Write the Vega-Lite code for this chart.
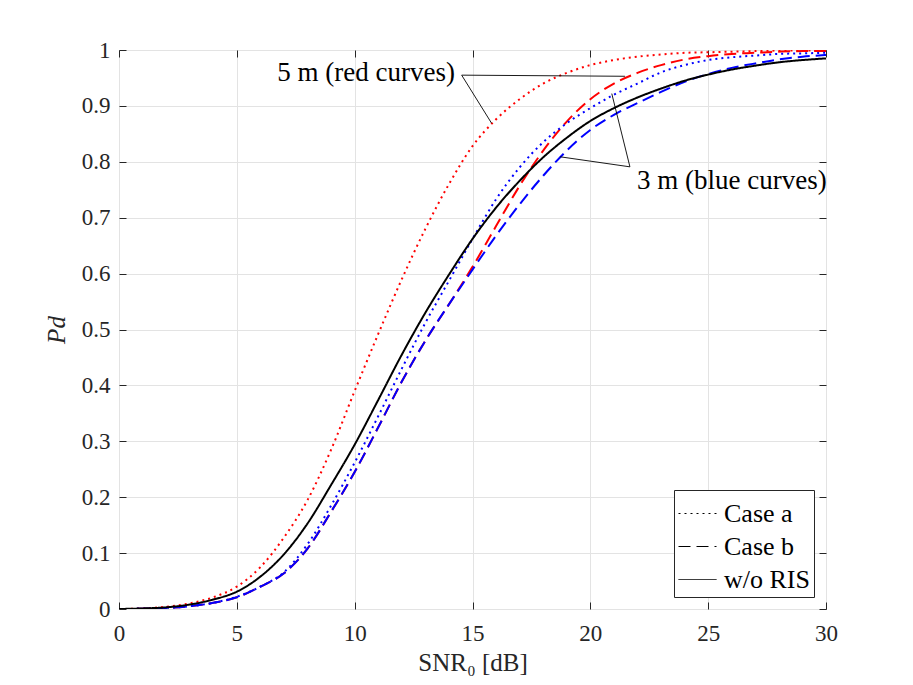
{
  "$schema": "https://vega.github.io/schema/vega-lite/v6.json",
  "width": 707,
  "height": 559,
  "autosize": {"type": "none"},
  "padding": {"left": 119, "top": 50, "right": 87, "bottom": 76},
  "background": "white",
  "config": {
    "font": "Liberation Serif",
    "view": {"stroke": "#262626", "strokeWidth": 1},
    "axis": {
      "domain": false,
      "grid": true,
      "gridColor": "#e3e3e3",
      "gridWidth": 1,
      "tickColor": "#262626",
      "tickSize": -7,
      "tickWidth": 1,
      "labelFlush": false,
      "labelFont": "Liberation Serif",
      "labelFontSize": 23,
      "labelColor": "#262626",
      "titleFont": "Liberation Serif",
      "titleFontSize": 25,
      "titleFontWeight": "normal",
      "titleColor": "#262626"
    },
    "legend": {"labelFont": "Liberation Serif"}
  },
  "datasets": {
    "curves": [
      {"snr":0,"pd":0,"dist":"5 m","case":"Case a"},{"snr":1,"pd":0.001,"dist":"5 m","case":"Case a"},{"snr":2,"pd":0.004,"dist":"5 m","case":"Case a"},{"snr":3,"pd":0.01,"dist":"5 m","case":"Case a"},{"snr":4,"pd":0.021,"dist":"5 m","case":"Case a"},{"snr":5,"pd":0.04,"dist":"5 m","case":"Case a"},{"snr":6,"pd":0.075,"dist":"5 m","case":"Case a"},{"snr":7,"pd":0.128,"dist":"5 m","case":"Case a"},{"snr":8,"pd":0.195,"dist":"5 m","case":"Case a"},{"snr":9,"pd":0.285,"dist":"5 m","case":"Case a"},{"snr":10,"pd":0.39,"dist":"5 m","case":"Case a"},{"snr":11,"pd":0.492,"dist":"5 m","case":"Case a"},{"snr":12,"pd":0.59,"dist":"5 m","case":"Case a"},{"snr":13,"pd":0.68,"dist":"5 m","case":"Case a"},{"snr":14,"pd":0.76,"dist":"5 m","case":"Case a"},{"snr":15,"pd":0.828,"dist":"5 m","case":"Case a"},{"snr":16,"pd":0.876,"dist":"5 m","case":"Case a"},{"snr":17,"pd":0.912,"dist":"5 m","case":"Case a"},{"snr":18,"pd":0.94,"dist":"5 m","case":"Case a"},{"snr":19,"pd":0.959,"dist":"5 m","case":"Case a"},{"snr":20,"pd":0.973,"dist":"5 m","case":"Case a"},{"snr":21,"pd":0.982,"dist":"5 m","case":"Case a"},{"snr":22,"pd":0.988,"dist":"5 m","case":"Case a"},{"snr":23,"pd":0.992,"dist":"5 m","case":"Case a"},{"snr":24,"pd":0.995,"dist":"5 m","case":"Case a"},{"snr":25,"pd":0.996,"dist":"5 m","case":"Case a"},{"snr":26,"pd":0.997,"dist":"5 m","case":"Case a"},{"snr":27,"pd":0.998,"dist":"5 m","case":"Case a"},{"snr":28,"pd":0.999,"dist":"5 m","case":"Case a"},{"snr":29,"pd":0.999,"dist":"5 m","case":"Case a"},{"snr":30,"pd":1.0,"dist":"5 m","case":"Case a"},
      {"snr":0,"pd":0,"dist":"5 m","case":"Case b"},{"snr":1,"pd":0.0005,"dist":"5 m","case":"Case b"},{"snr":2,"pd":0.002,"dist":"5 m","case":"Case b"},{"snr":3,"pd":0.005,"dist":"5 m","case":"Case b"},{"snr":4,"pd":0.011,"dist":"5 m","case":"Case b"},{"snr":5,"pd":0.021,"dist":"5 m","case":"Case b"},{"snr":6,"pd":0.04,"dist":"5 m","case":"Case b"},{"snr":7,"pd":0.064,"dist":"5 m","case":"Case b"},{"snr":8,"pd":0.108,"dist":"5 m","case":"Case b"},{"snr":9,"pd":0.174,"dist":"5 m","case":"Case b"},{"snr":10,"pd":0.245,"dist":"5 m","case":"Case b"},{"snr":11,"pd":0.325,"dist":"5 m","case":"Case b"},{"snr":12,"pd":0.407,"dist":"5 m","case":"Case b"},{"snr":13,"pd":0.48,"dist":"5 m","case":"Case b"},{"snr":14,"pd":0.545,"dist":"5 m","case":"Case b"},{"snr":15,"pd":0.612,"dist":"5 m","case":"Case b"},{"snr":16,"pd":0.685,"dist":"5 m","case":"Case b"},{"snr":17,"pd":0.757,"dist":"5 m","case":"Case b"},{"snr":18,"pd":0.82,"dist":"5 m","case":"Case b"},{"snr":19,"pd":0.872,"dist":"5 m","case":"Case b"},{"snr":20,"pd":0.912,"dist":"5 m","case":"Case b"},{"snr":21,"pd":0.94,"dist":"5 m","case":"Case b"},{"snr":22,"pd":0.959,"dist":"5 m","case":"Case b"},{"snr":23,"pd":0.973,"dist":"5 m","case":"Case b"},{"snr":24,"pd":0.983,"dist":"5 m","case":"Case b"},{"snr":25,"pd":0.989,"dist":"5 m","case":"Case b"},{"snr":26,"pd":0.993,"dist":"5 m","case":"Case b"},{"snr":27,"pd":0.995,"dist":"5 m","case":"Case b"},{"snr":28,"pd":0.997,"dist":"5 m","case":"Case b"},{"snr":29,"pd":0.998,"dist":"5 m","case":"Case b"},{"snr":30,"pd":0.998,"dist":"5 m","case":"Case b"},
      {"snr":0,"pd":0,"dist":"3 m","case":"Case a"},{"snr":1,"pd":0.0005,"dist":"3 m","case":"Case a"},{"snr":2,"pd":0.002,"dist":"3 m","case":"Case a"},{"snr":3,"pd":0.005,"dist":"3 m","case":"Case a"},{"snr":4,"pd":0.011,"dist":"3 m","case":"Case a"},{"snr":5,"pd":0.022,"dist":"3 m","case":"Case a"},{"snr":6,"pd":0.04,"dist":"3 m","case":"Case a"},{"snr":7,"pd":0.066,"dist":"3 m","case":"Case a"},{"snr":8,"pd":0.116,"dist":"3 m","case":"Case a"},{"snr":9,"pd":0.185,"dist":"3 m","case":"Case a"},{"snr":10,"pd":0.262,"dist":"3 m","case":"Case a"},{"snr":11,"pd":0.345,"dist":"3 m","case":"Case a"},{"snr":12,"pd":0.43,"dist":"3 m","case":"Case a"},{"snr":13,"pd":0.512,"dist":"3 m","case":"Case a"},{"snr":14,"pd":0.587,"dist":"3 m","case":"Case a"},{"snr":15,"pd":0.662,"dist":"3 m","case":"Case a"},{"snr":16,"pd":0.733,"dist":"3 m","case":"Case a"},{"snr":17,"pd":0.79,"dist":"3 m","case":"Case a"},{"snr":18,"pd":0.835,"dist":"3 m","case":"Case a"},{"snr":19,"pd":0.869,"dist":"3 m","case":"Case a"},{"snr":20,"pd":0.896,"dist":"3 m","case":"Case a"},{"snr":21,"pd":0.92,"dist":"3 m","case":"Case a"},{"snr":22,"pd":0.94,"dist":"3 m","case":"Case a"},{"snr":23,"pd":0.96,"dist":"3 m","case":"Case a"},{"snr":24,"pd":0.973,"dist":"3 m","case":"Case a"},{"snr":25,"pd":0.982,"dist":"3 m","case":"Case a"},{"snr":26,"pd":0.987,"dist":"3 m","case":"Case a"},{"snr":27,"pd":0.99,"dist":"3 m","case":"Case a"},{"snr":28,"pd":0.993,"dist":"3 m","case":"Case a"},{"snr":29,"pd":0.994,"dist":"3 m","case":"Case a"},{"snr":30,"pd":0.995,"dist":"3 m","case":"Case a"},
      {"snr":0,"pd":0,"dist":"3 m","case":"Case b"},{"snr":1,"pd":0.0005,"dist":"3 m","case":"Case b"},{"snr":2,"pd":0.002,"dist":"3 m","case":"Case b"},{"snr":3,"pd":0.005,"dist":"3 m","case":"Case b"},{"snr":4,"pd":0.011,"dist":"3 m","case":"Case b"},{"snr":5,"pd":0.021,"dist":"3 m","case":"Case b"},{"snr":6,"pd":0.04,"dist":"3 m","case":"Case b"},{"snr":7,"pd":0.064,"dist":"3 m","case":"Case b"},{"snr":8,"pd":0.108,"dist":"3 m","case":"Case b"},{"snr":9,"pd":0.174,"dist":"3 m","case":"Case b"},{"snr":10,"pd":0.245,"dist":"3 m","case":"Case b"},{"snr":11,"pd":0.325,"dist":"3 m","case":"Case b"},{"snr":12,"pd":0.407,"dist":"3 m","case":"Case b"},{"snr":13,"pd":0.48,"dist":"3 m","case":"Case b"},{"snr":14,"pd":0.545,"dist":"3 m","case":"Case b"},{"snr":15,"pd":0.607,"dist":"3 m","case":"Case b"},{"snr":16,"pd":0.668,"dist":"3 m","case":"Case b"},{"snr":17,"pd":0.724,"dist":"3 m","case":"Case b"},{"snr":18,"pd":0.775,"dist":"3 m","case":"Case b"},{"snr":19,"pd":0.82,"dist":"3 m","case":"Case b"},{"snr":20,"pd":0.857,"dist":"3 m","case":"Case b"},{"snr":21,"pd":0.884,"dist":"3 m","case":"Case b"},{"snr":22,"pd":0.905,"dist":"3 m","case":"Case b"},{"snr":23,"pd":0.925,"dist":"3 m","case":"Case b"},{"snr":24,"pd":0.943,"dist":"3 m","case":"Case b"},{"snr":25,"pd":0.957,"dist":"3 m","case":"Case b"},{"snr":26,"pd":0.968,"dist":"3 m","case":"Case b"},{"snr":27,"pd":0.976,"dist":"3 m","case":"Case b"},{"snr":28,"pd":0.983,"dist":"3 m","case":"Case b"},{"snr":29,"pd":0.988,"dist":"3 m","case":"Case b"},{"snr":30,"pd":0.991,"dist":"3 m","case":"Case b"},
      {"snr":0,"pd":0,"dist":"none","case":"w/o RIS"},{"snr":1,"pd":0.001,"dist":"none","case":"w/o RIS"},{"snr":2,"pd":0.003,"dist":"none","case":"w/o RIS"},{"snr":3,"pd":0.008,"dist":"none","case":"w/o RIS"},{"snr":4,"pd":0.017,"dist":"none","case":"w/o RIS"},{"snr":5,"pd":0.031,"dist":"none","case":"w/o RIS"},{"snr":6,"pd":0.058,"dist":"none","case":"w/o RIS"},{"snr":7,"pd":0.098,"dist":"none","case":"w/o RIS"},{"snr":8,"pd":0.153,"dist":"none","case":"w/o RIS"},{"snr":9,"pd":0.222,"dist":"none","case":"w/o RIS"},{"snr":10,"pd":0.294,"dist":"none","case":"w/o RIS"},{"snr":11,"pd":0.374,"dist":"none","case":"w/o RIS"},{"snr":12,"pd":0.455,"dist":"none","case":"w/o RIS"},{"snr":13,"pd":0.53,"dist":"none","case":"w/o RIS"},{"snr":14,"pd":0.598,"dist":"none","case":"w/o RIS"},{"snr":15,"pd":0.662,"dist":"none","case":"w/o RIS"},{"snr":16,"pd":0.718,"dist":"none","case":"w/o RIS"},{"snr":17,"pd":0.766,"dist":"none","case":"w/o RIS"},{"snr":18,"pd":0.808,"dist":"none","case":"w/o RIS"},{"snr":19,"pd":0.843,"dist":"none","case":"w/o RIS"},{"snr":20,"pd":0.873,"dist":"none","case":"w/o RIS"},{"snr":21,"pd":0.896,"dist":"none","case":"w/o RIS"},{"snr":22,"pd":0.915,"dist":"none","case":"w/o RIS"},{"snr":23,"pd":0.931,"dist":"none","case":"w/o RIS"},{"snr":24,"pd":0.945,"dist":"none","case":"w/o RIS"},{"snr":25,"pd":0.956,"dist":"none","case":"w/o RIS"},{"snr":26,"pd":0.965,"dist":"none","case":"w/o RIS"},{"snr":27,"pd":0.972,"dist":"none","case":"w/o RIS"},{"snr":28,"pd":0.978,"dist":"none","case":"w/o RIS"},{"snr":29,"pd":0.982,"dist":"none","case":"w/o RIS"},{"snr":30,"pd":0.985,"dist":"none","case":"w/o RIS"}
    ],
    "pointers": [
      {"x1":14.54,"y1":0.955,"x2":21.47,"y2":0.953},
      {"x1":14.54,"y1":0.955,"x2":15.81,"y2":0.869},
      {"x1":21.68,"y1":0.791,"x2":20.91,"y2":0.922},
      {"x1":21.68,"y1":0.791,"x2":18.71,"y2":0.809}
    ],
    "notes": [
      {"x":14.26,"y":0.959,"label":"5 m (red curves)","side":"right"},
      {"x":21.98,"y":0.766,"label":"3 m (blue curves)","side":"left"}
    ]
  },
  "resolve": {"axis": {"x": "independent", "y": "independent"}},
  "layer": [
    {
      "data": {"name": "curves"},
      "mark": {"type": "line", "strokeWidth": 2, "interpolate": "monotone", "clip": true},
      "encoding": {
        "x": {"field": "snr", "type": "quantitative",
              "scale": {"domain": [0, 30], "nice": false, "zero": false},
              "axis": {"values": [0,5,10,15,20,25,30], "format": "d", "labelPadding": 20, "title": "SNR₀ [dB]", "titlePadding": 5}},
        "y": {"field": "pd", "type": "quantitative",
              "scale": {"domain": [0, 1], "nice": false},
              "axis": {"values": [0,0.1,0.2,0.3,0.4,0.5,0.6,0.7,0.8,0.9,1], "format": "~g", "labelPadding": 16, "title": "Pd", "titleFontStyle": "italic", "titlePadding": 12}},
        "color": {"field": "dist", "type": "nominal",
                  "scale": {"domain": ["5 m", "3 m", "none"], "range": ["#ff0000", "#0000ff", "#000000"]},
                  "legend": null},
        "strokeDash": {"field": "case", "type": "nominal",
                       "scale": {"domain": ["Case a", "Case b", "w/o RIS"], "range": [[2, 4], [12, 6], [1, 0]]},
                       "legend": {"orient": "bottom-right", "offset": 12, "title": null, "fillColor": "white", "strokeColor": "#262626", "padding": 4, "symbolType": "stroke", "symbolSize": 1444, "symbolStrokeWidth": 1, "symbolStrokeColor": "#000000", "labelFont": "Liberation Serif", "labelFontSize": 26, "labelColor": "#000000", "labelOffset": 7, "rowPadding": -13}}
      }
    },
    {
      "data": {"name": "pointers"},
      "mark": {"type": "rule", "color": "#000000", "strokeWidth": 0.9},
      "encoding": {
        "x": {"field": "x1", "type": "quantitative", "axis": {"orient": "top", "labels": false, "grid": false, "title": null, "values": [0,5,10,15,20,25,30]}},
        "y": {"field": "y1", "type": "quantitative", "axis": {"orient": "right", "labels": false, "grid": false, "title": null, "values": [0,0.1,0.2,0.3,0.4,0.5,0.6,0.7,0.8,0.9,1]}},
        "x2": {"field": "x2"},
        "y2": {"field": "y2"}
      }
    },
    {
      "data": {"name": "notes"},
      "transform": [{"filter": "datum.side === 'right'"}],
      "mark": {"type": "text", "align": "right", "baseline": "middle", "font": "Liberation Serif", "fontSize": 27, "color": "#000000"},
      "encoding": {
        "x": {"field": "x", "type": "quantitative", "axis": null},
        "y": {"field": "y", "type": "quantitative", "axis": null},
        "text": {"field": "label"}
      }
    },
    {
      "data": {"name": "notes"},
      "transform": [{"filter": "datum.side === 'left'"}],
      "mark": {"type": "text", "align": "left", "baseline": "middle", "font": "Liberation Serif", "fontSize": 27, "color": "#000000"},
      "encoding": {
        "x": {"field": "x", "type": "quantitative", "axis": null},
        "y": {"field": "y", "type": "quantitative", "axis": null},
        "text": {"field": "label"}
      }
    }
  ]
}
